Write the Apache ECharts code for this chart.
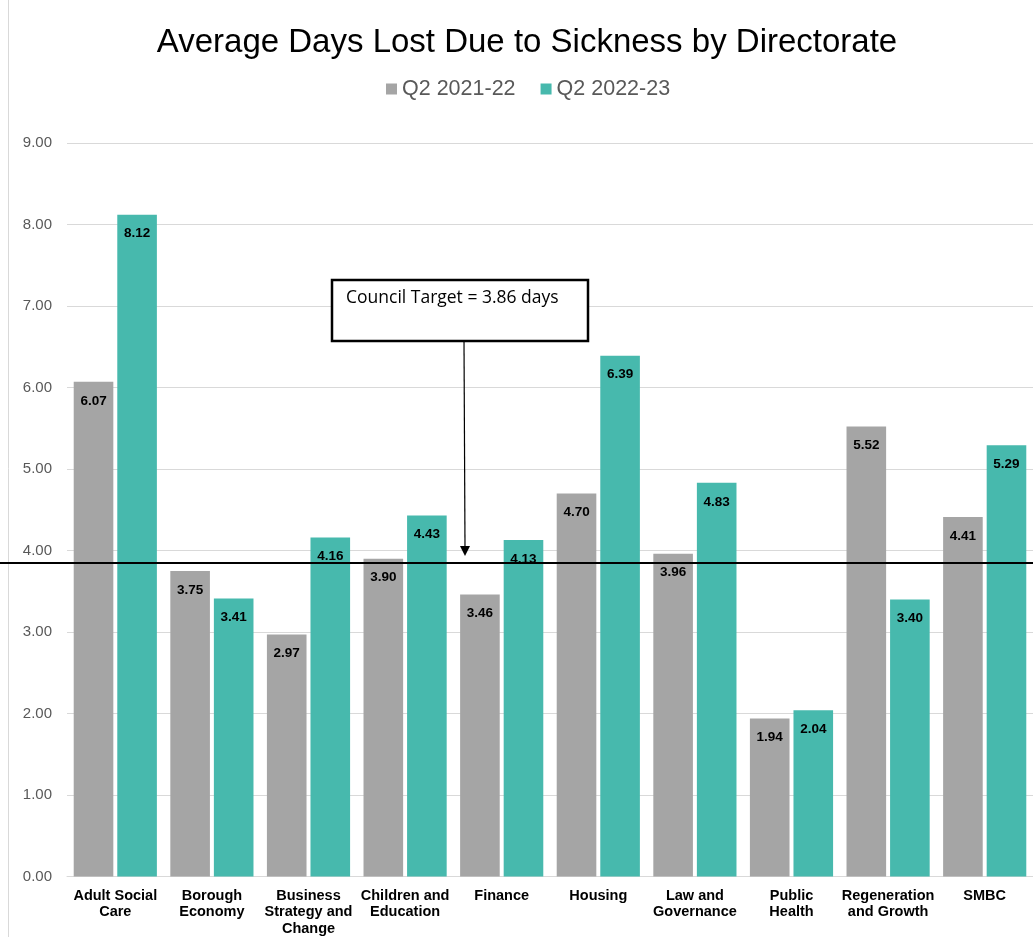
<!DOCTYPE html>
<html>
<head>
<meta charset="utf-8">
<script src="https://cdn.jsdelivr.net/npm/echarts@6/dist/echarts.min.js"></script>
<style>
  html, body { margin: 0; padding: 0; background: #fff; }
  #chart { width: 1033px; height: 937px; }
</style>
</head>
<body>
<div id="chart"></div>
<script>
// Directorates and sickness absence (average days lost per employee)
const categories = [
  'Adult Social\nCare', 'Borough\nEconomy', 'Business\nStrategy and\nChange',
  'Children and\nEducation', 'Finance', 'Housing', 'Law and\nGovernance',
  'Public\nHealth', 'Regeneration\nand Growth', 'SMBC'
];
const seriesNames = ['Q2 2021-22', 'Q2 2022-23'];
const q2_2021_22 = [6.07, 3.75, 2.97, 3.90, 3.46, 4.70, 3.96, 1.94, 5.52, 4.41];
const q2_2022_23 = [8.12, 3.41, 4.16, 4.43, 4.13, 6.39, 4.83, 2.04, 3.40, 5.29];
const councilTarget = 3.86;
const yTicks = { min: 0, max: 9, interval: 1 };

const chart = echarts.init(document.getElementById('chart'), null, { renderer: 'canvas' });

const labelStyle = {
  show: true,
  position: 'insideTop',
  distance: 12,
  fontFamily: 'Liberation Sans, Arial, sans-serif',
  fontWeight: 'bold',
  fontSize: 13.5,
  color: '#000',
  formatter: p => p.value.toFixed(2)
};

chart.setOption({
  animation: false,
  backgroundColor: '#fff',
  title: {
    text: 'Average Days Lost Due to Sickness by Directorate',
    left: 522, textAlign: 'center', top: 21,
    textStyle: { fontFamily: 'Liberation Sans, Arial, sans-serif', fontWeight: 'normal', fontSize: 33, color: '#000' }
  },
  legend: {
    data: seriesNames,
    top: 73, left: 381,
    itemWidth: 11, itemHeight: 11, itemGap: 25,
    icon: 'rect',
    textStyle: { fontFamily: 'Liberation Sans, Arial, sans-serif', fontSize: 21.5, color: '#595959', padding: [0, 0, 0, 0] }
  },
  grid: { left: 67, right: 0, top: 143, bottom: 60, containLabel: false },
  xAxis: {
    type: 'category',
    data: categories,
    axisLine: { lineStyle: { color: '#d9d9d9', width: 1 } },
    axisTick: { show: false },
    axisLabel: {
      interval: 0, margin: 11, lineHeight: 16.5,
      fontFamily: 'Liberation Sans, Arial, sans-serif', fontWeight: 'bold', fontSize: 14.5, color: '#000'
    }
  },
  yAxis: {
    type: 'value',
    min: yTicks.min, max: yTicks.max, interval: yTicks.interval,
    axisLine: { show: false },
    axisTick: { show: false },
    axisLabel: {
      margin: 15,
      fontFamily: 'Liberation Sans, Arial, sans-serif', fontSize: 15, color: '#595959',
      formatter: v => v.toFixed(2)
    },
    splitLine: { lineStyle: { color: '#d9d9d9', width: 1 } }
  },
  series: [
    {
      name: seriesNames[0], type: 'bar', data: q2_2021_22,
      barWidth: '41%', barGap: '10%',
      itemStyle: { color: '#a5a5a5' },
      label: labelStyle
    },
    {
      name: seriesNames[1], type: 'bar', data: q2_2022_23,
      barWidth: '41%', barGap: '10%',
      itemStyle: { color: '#47b9ad' },
      label: labelStyle
    }
  ]
});

// Target line across the full width, plus the callout box with its arrow
const ty = chart.convertToPixel({ yAxisIndex: 0 }, councilTarget);
const boxX = 332, boxY = 280, boxW = 256, boxH = 61;
const arrowX = boxX + boxW / 2 + 4;
chart.setOption({
  graphic: [
    { type: 'line', shape: { x1: 8.5, y1: 0, x2: 8.5, y2: 937 }, style: { stroke: '#d9d9d9', lineWidth: 1 }, z: 1 },
    { type: 'line', shape: { x1: 0, y1: ty + 1, x2: 1033, y2: ty + 1 }, style: { stroke: '#000', lineWidth: 2 }, z: 100 },
    { type: 'rect', shape: { x: boxX, y: boxY, width: boxW, height: boxH }, style: { fill: '#fff', stroke: '#000', lineWidth: 2.5 }, z: 100 },
    { type: 'text', x: boxX + 14, y: boxY + 9, style: { text: 'Council Target = 3.86 days', fontFamily: 'Open Sans, Liberation Sans, sans-serif', fontSize: 17.5, fill: '#000' }, z: 101 },
    { type: 'line', shape: { x1: arrowX, y1: boxY + boxH, x2: arrowX + 1, y2: ty - 14 }, style: { stroke: '#000', lineWidth: 1.2 }, z: 100 },
    { type: 'polygon', shape: { points: [[arrowX - 4, ty - 16], [arrowX + 6, ty - 16], [arrowX + 1, ty - 6]] }, style: { fill: '#000' }, z: 100 }
  ]
});
</script>
</body>
</html>
